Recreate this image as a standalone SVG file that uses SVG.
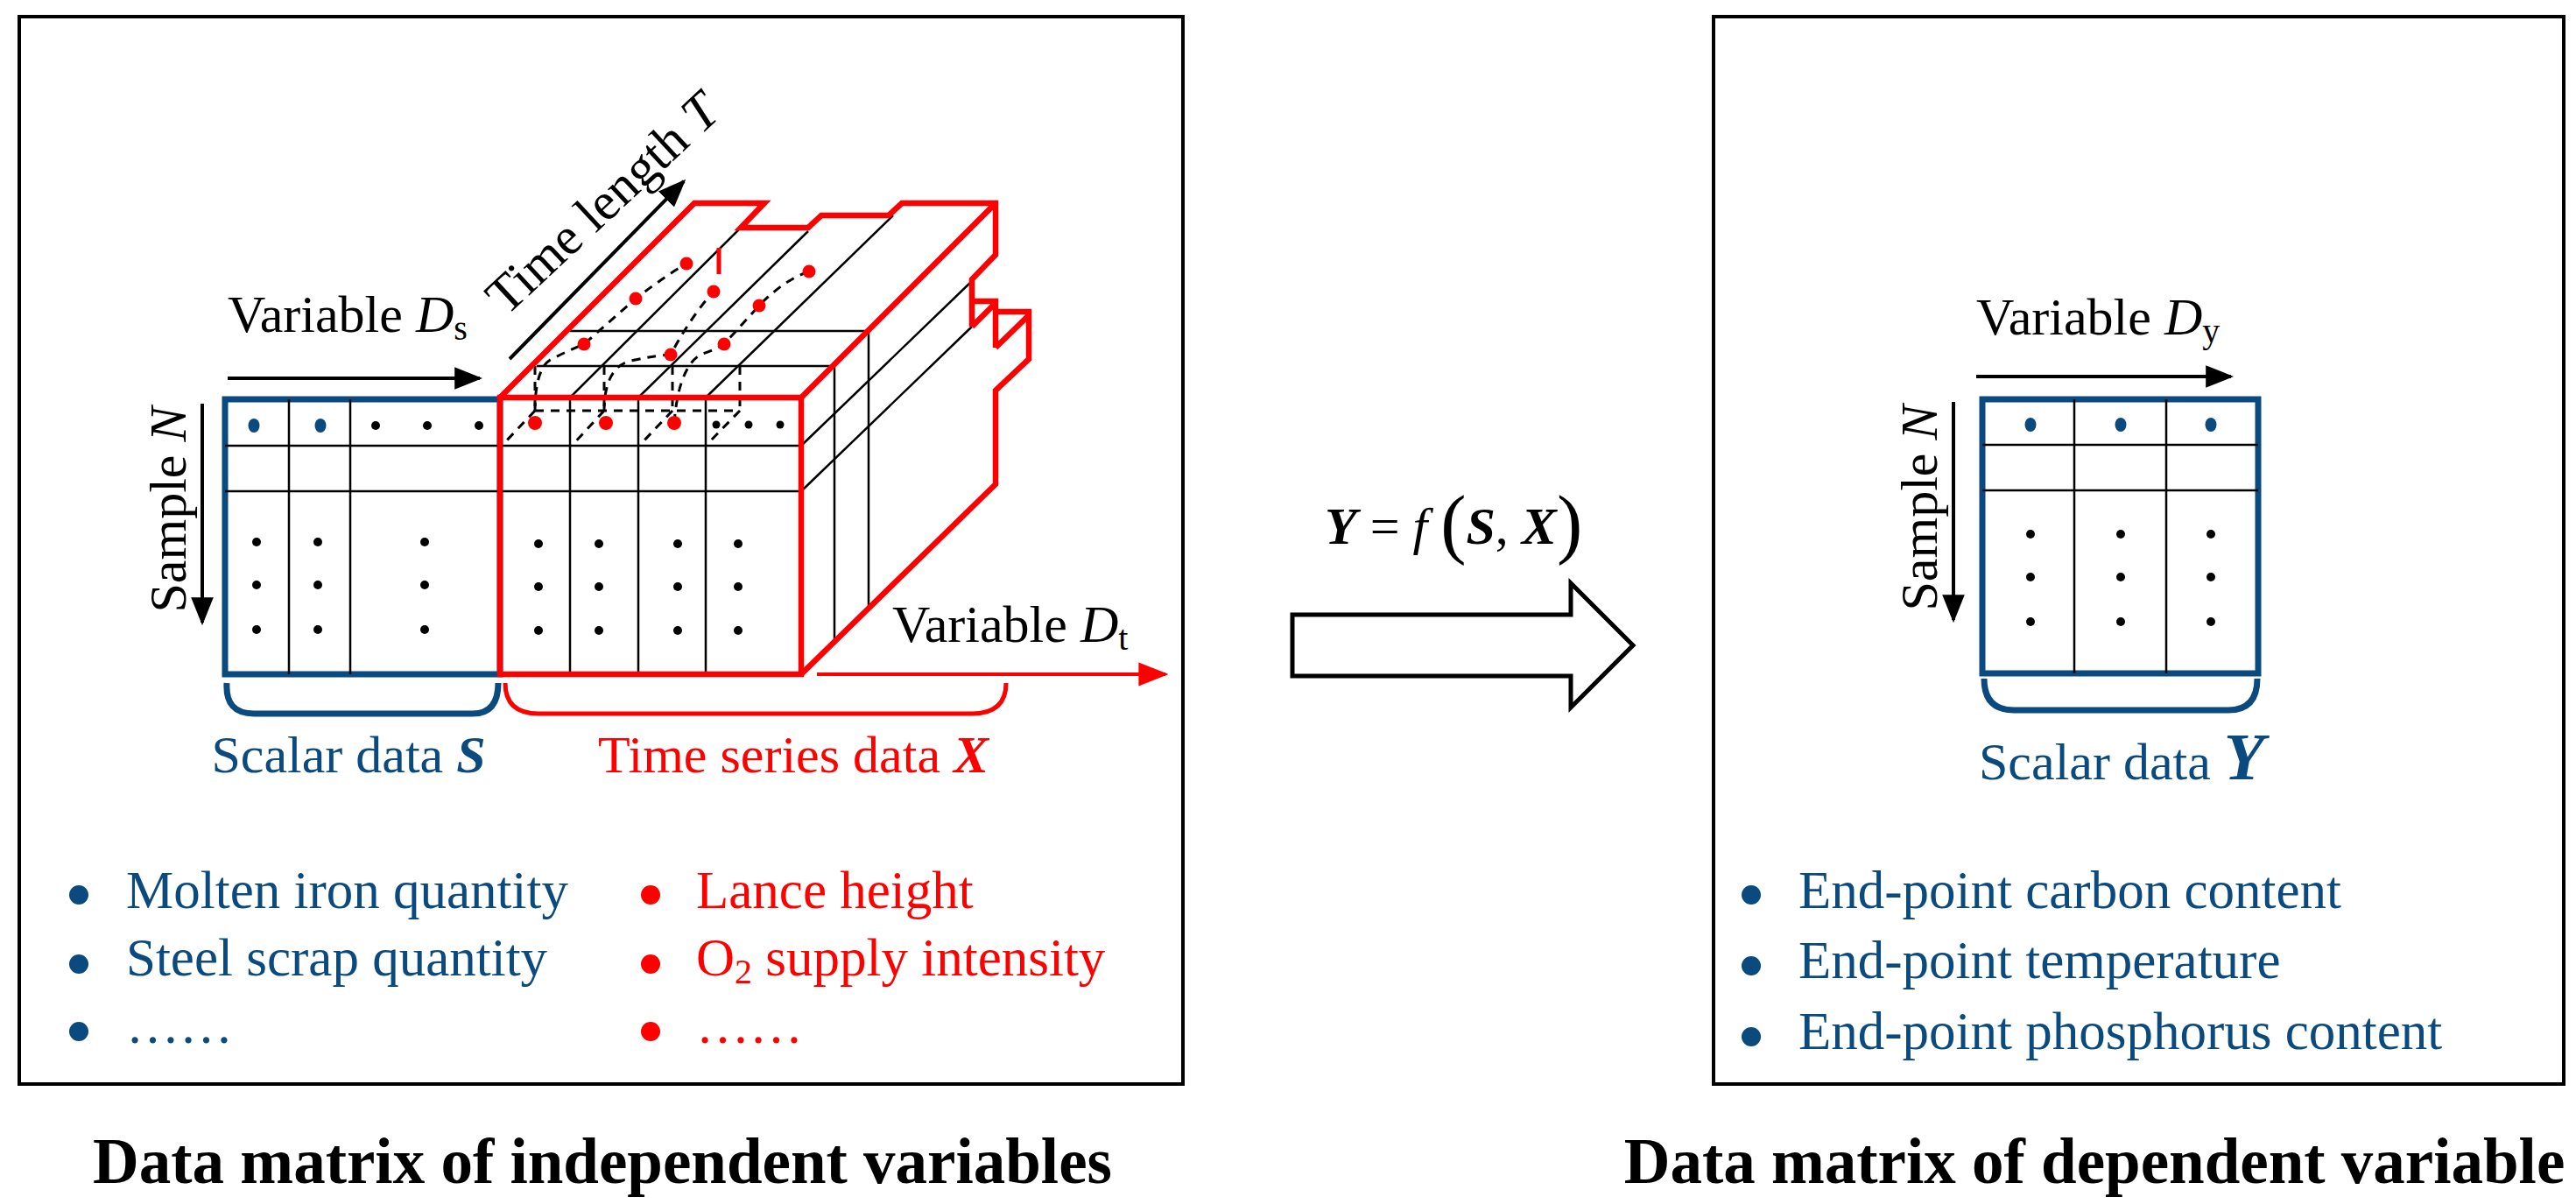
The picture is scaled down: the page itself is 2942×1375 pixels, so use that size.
<svg xmlns="http://www.w3.org/2000/svg" width="2942" height="1375" viewBox="0 0 2942 1375">
<style>
text{font-family:"Liberation Serif","Times New Roman",serif;font-size:60px}
.b{fill:#0B4A7F}.r{fill:#FF0000}
.thin{stroke:#000;stroke-width:2.5;fill:none}
.dash{stroke:#000;stroke-width:3;fill:none;stroke-dasharray:10 8}
.red{stroke:#FF0000;stroke-width:6.5;fill:none;stroke-linejoin:miter}
.blu{stroke:#0B4A7F;stroke-width:7;fill:none}
.frame{stroke:#000;stroke-width:4;fill:none}
.title{font-weight:bold;font-size:73px;text-anchor:middle}
.li{font-size:61px}
</style>
<defs>
<marker id="akb" viewBox="0 0 10 8" refX="9" refY="4" markerWidth="32" markerHeight="26" orient="auto" markerUnits="userSpaceOnUse"><path d="M0,0L10,4L0,8z" fill="#000"/></marker>
<marker id="arb" viewBox="0 0 10 8" refX="9" refY="4" markerWidth="34" markerHeight="28" orient="auto" markerUnits="userSpaceOnUse"><path d="M0,0L10,4L0,8z" fill="#FF0000"/></marker>
</defs>

<g id="left-panel">
<rect x="22" y="19" width="1329" height="1219" class="frame"/>
</g>

<g id="scalar-S">
<rect x="257" y="456" width="314" height="314" class="blu"/>
<path class="thin" d="M330,456V770M400,456V770M257,509H571M257,561H571"/>
<g class="b"><ellipse cx="290" cy="486" rx="6.5" ry="8"/><ellipse cx="366" cy="486" rx="6.5" ry="8"/></g>
<g fill="#000"><circle cx="429" cy="486" r="5"/><circle cx="488" cy="486" r="5"/><circle cx="547" cy="486" r="5"/>
<circle cx="293" cy="619" r="5"/><circle cx="293" cy="668" r="5"/><circle cx="293" cy="719" r="5"/>
<circle cx="363" cy="619" r="5"/><circle cx="363" cy="668" r="5"/><circle cx="363" cy="719" r="5"/>
<circle cx="485" cy="619" r="5"/><circle cx="485" cy="668" r="5"/><circle cx="485" cy="719" r="5"/></g>
</g>

<g id="timeseries-X">
<path class="thin" d="M651,456V770M729,456V770M806,456V770M571,509H915M571,561H915"/>
<path class="thin" d="M613,418H953V733M651,378H992V692"/>
<path class="thin" d="M651,454L846,260M729,454L923,264M806,454L1020,246"/>
<path class="thin" d="M915,509L1110,321M915,561L1110,373"/>
<path class="dash" d="M611,418V469M690,418V469M768,418V469M845,418V469M611,469H845M611,469L573,509M690,469L653,509M768,469L730,509M845,469L806,509"/>
<path class="dash" d="M611,470Q611,420 630,410Q650,400 667,393L726,341Q760,315 784,301"/>
<path class="dash" d="M690,470Q690,420 720,412Q755,405 766,405Q790,360 815,333"/>
<path class="dash" d="M770,483Q775,420 800,405Q820,398 827,393L867,349Q895,320 924,310"/>
<path class="red" d="M571,454H915V770H571Z"/>
<path class="red" d="M571,454L793,232H873L846,260H923L938,246H1015L1030,232H1137V291L1110,319V373M1110,344H1137V397M1137,356H1175V410L1137,446V553L915,770M915,454L1137,232M1110,373L1137,346M1137,397L1175,360"/>
<path stroke="#FF0000" stroke-width="5" d="M821,283V313"/>
<g class="r">
<circle cx="611" cy="483" r="8"/><circle cx="692" cy="483" r="8"/><circle cx="770" cy="483" r="8"/>
<circle cx="667" cy="393" r="7.5"/><circle cx="726" cy="341" r="7.5"/><circle cx="784" cy="301" r="7.5"/>
<circle cx="766" cy="405" r="7.5"/><circle cx="815" cy="333" r="7.5"/>
<circle cx="827" cy="393" r="7.5"/><circle cx="867" cy="349" r="7.5"/><circle cx="924" cy="310" r="7.5"/>
</g>
<g fill="#000"><circle cx="818" cy="485" r="4.5"/><circle cx="855" cy="485" r="4.5"/><circle cx="891" cy="485" r="4.5"/>
<circle cx="615" cy="621" r="5"/><circle cx="615" cy="670" r="5"/><circle cx="615" cy="720" r="5"/>
<circle cx="684" cy="621" r="5"/><circle cx="684" cy="670" r="5"/><circle cx="684" cy="720" r="5"/>
<circle cx="774" cy="621" r="5"/><circle cx="774" cy="670" r="5"/><circle cx="774" cy="720" r="5"/>
<circle cx="843" cy="621" r="5"/><circle cx="843" cy="670" r="5"/><circle cx="843" cy="720" r="5"/></g>
</g>

<g id="connectors">
<line x1="260" y1="432" x2="548" y2="432" stroke="#000" stroke-width="4" marker-end="url(#akb)"/>
<line x1="582" y1="410" x2="781" y2="207" stroke="#000" stroke-width="4" marker-end="url(#akb)"/>
<line x1="231" y1="461" x2="231" y2="711" stroke="#000" stroke-width="4" marker-end="url(#akb)"/>
<line x1="933" y1="770" x2="1331" y2="770" stroke="#FF0000" stroke-width="4" marker-end="url(#arb)"/>
<path class="blu" d="M259,780Q257,815 290,815H540Q569,815 569,780" stroke-width="5"/>
<path d="M577,780Q577,815 615,815H1110Q1149,815 1149,780" fill="none" stroke="#FF0000" stroke-width="5"/>
<line x1="2257" y1="430" x2="2548" y2="430" stroke="#000" stroke-width="4" marker-end="url(#akb)"/>
<line x1="2231" y1="459" x2="2231" y2="708" stroke="#000" stroke-width="4" marker-end="url(#akb)"/>
<path class="blu" d="M2266,775Q2266,811 2300,811H2545Q2578,811 2578,775" stroke-width="5"/>
<path d="M1476,702H1794V666L1865,737L1794,808V772H1476Z" fill="#fff" stroke="#000" stroke-width="5" stroke-linejoin="miter"/>
</g>

<g id="labels-left">
<text x="260" y="379">Variable <tspan font-style="italic">D</tspan><tspan font-size="40" dy="9">s</tspan></text>
<text x="578" y="362" transform="rotate(-43 578 362)">Time length <tspan font-style="italic">T</tspan></text>
<text x="212" y="582" text-anchor="middle" font-size="64" transform="rotate(-90 212 582)">Sample <tspan font-style="italic">N</tspan></text>
<text x="1019" y="733">Variable <tspan font-style="italic">D</tspan><tspan font-size="40" dy="9">t</tspan></text>
<text x="398" y="882" text-anchor="middle" class="b" font-size="63">Scalar data <tspan font-weight="bold" font-style="italic">S</tspan></text>
<text x="906" y="882" text-anchor="middle" class="r" font-size="62">Time series data <tspan font-weight="bold" font-style="italic">X</tspan></text>
<g class="b"><circle cx="90" cy="1022" r="11"/><circle cx="90" cy="1101" r="11"/><circle cx="90" cy="1178" r="11"/></g>
<text x="144" y="1037" class="b li">Molten iron quantity</text>
<text x="144" y="1114" class="b li">Steel scrap quantity</text>
<text x="144" y="1191" class="b li">……</text>
<g class="r"><circle cx="743" cy="1022" r="11"/><circle cx="743" cy="1101" r="11"/><circle cx="743" cy="1178" r="11"/></g>
<text x="795" y="1037" class="r li">Lance height</text>
<text x="795" y="1114" class="r li">O<tspan font-size="40" dy="9">2</tspan><tspan dy="-9"> supply intensity</tspan></text>
<text x="795" y="1191" class="r li">……</text>
<text x="688" y="1351" class="title">Data matrix of independent variables</text>
</g>

<g id="formula">
<text x="1513" y="621" font-size="67"><tspan font-weight="bold" font-style="italic">Y</tspan> = <tspan font-style="italic">f</tspan> <tspan font-size="88" dy="6">(</tspan><tspan font-weight="bold" font-style="italic" dy="-6">S</tspan>, <tspan font-weight="bold" font-style="italic">X</tspan><tspan font-size="88" dy="6">)</tspan></text>
</g>

<g id="right-panel">
<rect x="1957" y="19" width="971" height="1219" class="frame"/>
<rect x="2264" y="456" width="315" height="313" class="blu"/>
<path class="thin" d="M2369,456V769M2474,456V769M2264,508H2579M2264,560H2579"/>
<g class="b"><ellipse cx="2319" cy="485" rx="6.5" ry="8"/><ellipse cx="2422" cy="485" rx="6.5" ry="8"/><ellipse cx="2525" cy="485" rx="6.5" ry="8"/></g>
<g fill="#000"><circle cx="2319" cy="610" r="5"/><circle cx="2319" cy="659" r="5"/><circle cx="2319" cy="710" r="5"/>
<circle cx="2422" cy="610" r="5"/><circle cx="2422" cy="659" r="5"/><circle cx="2422" cy="710" r="5"/>
<circle cx="2525" cy="610" r="5"/><circle cx="2525" cy="659" r="5"/><circle cx="2525" cy="710" r="5"/></g>
<text x="2257" y="382">Variable <tspan font-style="italic">D</tspan><tspan font-size="40" dy="9">y</tspan></text>
<text x="2212" y="580" text-anchor="middle" font-size="64" transform="rotate(-90 2212 580)">Sample <tspan font-style="italic">N</tspan></text>
<text x="2260" y="890" class="b" font-size="63">Scalar data <tspan font-weight="bold" font-style="italic" font-size="76">Y</tspan></text>
<g class="b"><circle cx="2000" cy="1022" r="11"/><circle cx="2000" cy="1103" r="11"/><circle cx="2000" cy="1184" r="11"/></g>
<text x="2054" y="1037" class="b li">End-point carbon content</text>
<text x="2054" y="1117" class="b li">End-point temperature</text>
<text x="2054" y="1198" class="b li">End-point phosphorus content</text>
<text x="2392" y="1351" class="title">Data matrix of dependent variable</text>
</g>
</svg>
